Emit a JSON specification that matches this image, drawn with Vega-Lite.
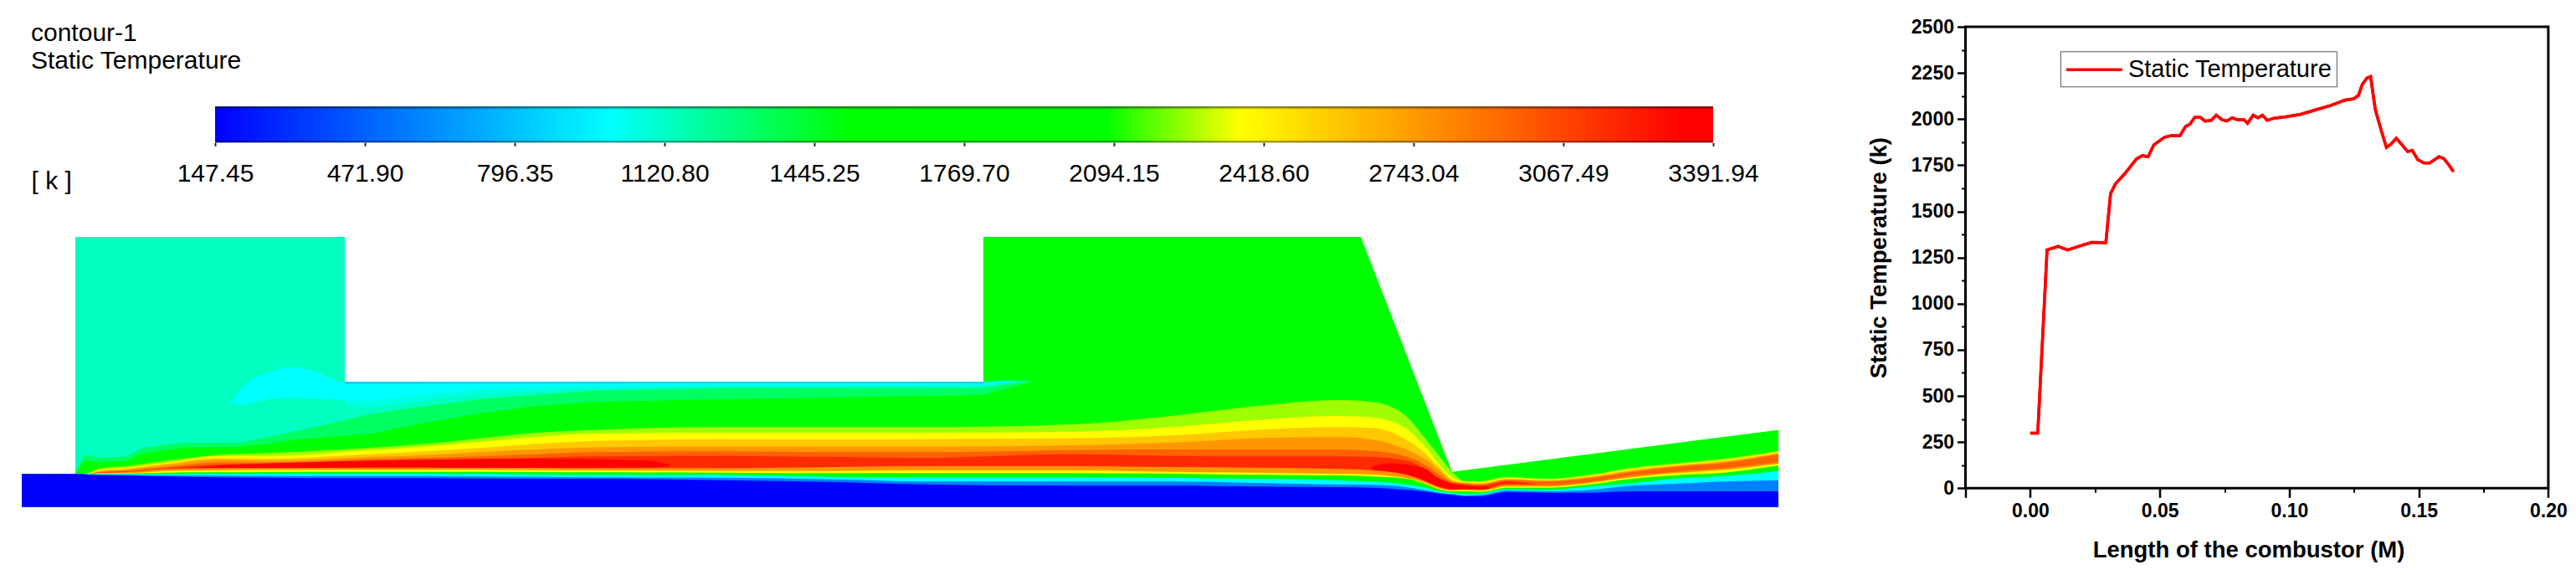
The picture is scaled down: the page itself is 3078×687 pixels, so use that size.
{
"$schema":"https://vega.github.io/schema/vega-lite/v6.json",
"background":"white",
"padding":{"left":26,"top":19,"right":0,"bottom":0},
"spacing":104.5,
"config":{"font":"Liberation Sans","view":{"stroke":null},"axis":{"grid":false}},
"datasets":{
"colorbar":[{"Tmin":147.45,"Tmax":3391.94,"lo":0,"hi":1}],
"outline":[{"s":26,"d":433},{"s":90,"d":433},{"s":90,"d":-417},{"s":412,"d":-417},{"s":412,"d":103},{"s":1175,"d":103},{"s":1175,"d":-417},{"s":1626,"d":-417},{"s":1735,"d":425},{"s":2125,"d":275}],
"upper":[
{"s":90,"top":-417,"lg":432,"mint":432},{"s":100,"top":-417,"lg":385,"mint":365},{"s":120,"top":-417,"lg":390,"mint":375},{"s":150,"top":-417,"lg":388,"mint":370},{"s":170,"top":-417,"lg":360,"mint":340},{"s":220,"top":-417,"lg":338,"mint":320},{"s":287,"top":-417,"lg":335,"mint":320},{"s":320,"top":-417,"lg":325,"mint":300},{"s":353,"top":-417,"lg":310,"mint":280},{"s":412,"top":-417,"lg":296,"mint":240},
{"s":412,"top":103,"lg":296,"mint":240},{"s":440,"top":103,"lg":290,"mint":220},{"s":507,"top":103,"lg":250,"mint":190},{"s":573,"top":103,"lg":215,"mint":165},{"s":640,"top":103,"lg":190,"mint":150},{"s":707,"top":103,"lg":175,"mint":135},{"s":860,"top":103,"lg":165,"mint":125},{"s":1175,"top":103,"lg":150,"mint":125},{"s":1200,"top":97,"lg":128,"mint":112},{"s":1232,"top":101,"lg":103,"mint":101}],
"aqua":[{"s":412,"top":105,"low":190},{"s":440,"top":105,"low":195},{"s":507,"top":105,"low":170},{"s":573,"top":105,"low":148},{"s":707,"top":105,"low":128},{"s":860,"top":105,"low":118},{"s":1175,"top":105,"low":118},{"s":1205,"top":100,"low":104}],
"cyan":[{"s":277,"top":172,"low":178},{"s":287,"top":130,"low":185},{"s":320,"top":70,"low":165},{"s":347,"top":50,"low":160},{"s":373,"top":62,"low":162},{"s":412,"top":105,"low":168},{"s":440,"top":105,"low":170},{"s":507,"top":105,"low":150},{"s":573,"top":105,"low":130},{"s":707,"top":105,"low":120},{"s":1175,"top":105,"low":112},{"s":1195,"top":101,"low":106}],
"wall":[{"s":412,"top":103,"low":110},{"s":1175,"top":103,"low":108}],
"core":[{"segment":"a","s":220,"top":412,"low":414},{"segment":"a","s":280,"top":400,"low":412},{"segment":"a","s":440,"top":386,"low":411},{"segment":"a","s":640,"top":378,"low":411},{"segment":"a","s":773,"top":385,"low":410},{"segment":"a","s":800,"top":400,"low":405},
{"segment":"b","s":1640,"top":405,"low":418},{"segment":"b","s":1660,"top":395,"low":425},{"segment":"b","s":1700,"top":410,"low":455},{"segment":"b","s":1720,"top":450,"low":480},{"segment":"b","s":1750,"top":475,"low":488},{"segment":"b","s":1780,"top":480,"low":485}],
"stations":[
{"s":26,"b1":434,"b2":434,"b3":434,"b4":434,"b5":434,"b6":434,"b7":434,"b8":434,"b9":434,"b10":434,"b11":434,"b12":433},
{"s":90,"b1":434,"b2":434,"b3":434,"b4":434,"b5":434,"b6":434,"b7":434,"b8":434,"b9":434,"b10":434,"b11":434,"b12":433},
{"s":100,"b1":432,"b2":433,"b3":433,"b4":433,"b5":433,"b6":433,"b7":433,"b8":433,"b9":433,"b10":433,"b11":433,"b12":434},
{"s":107,"b1":428,"b2":430,"b3":431,"b4":432,"b5":432,"b6":433,"b7":433,"b8":433,"b9":433,"b10":434,"b11":435,"b12":436},
{"s":120,"b1":412,"b2":416,"b3":420,"b4":424,"b5":426,"b6":428,"b7":429,"b8":430,"b9":431,"b10":433,"b11":435,"b12":437},
{"s":150,"b1":405,"b2":410,"b3":414,"b4":418,"b5":422,"b6":424,"b7":426,"b8":430,"b9":431,"b10":433,"b11":436,"b12":438},
{"s":200,"b1":385,"b2":392,"b3":395,"b4":400,"b5":408,"b6":412,"b7":415,"b8":422,"b9":428,"b10":433,"b11":438,"b12":442},
{"s":260,"b1":365,"b2":368,"b3":376,"b4":382,"b5":392,"b6":400,"b7":412,"b8":420,"b9":427,"b10":432,"b11":439,"b12":445},
{"s":320,"b1":358,"b2":368,"b3":378,"b4":385,"b5":392,"b6":396,"b7":412,"b8":418,"b9":426,"b10":432,"b11":440,"b12":446},
{"s":440,"b1":340,"b2":348,"b3":362,"b4":372,"b5":380,"b6":385,"b7":410,"b8":418,"b9":425,"b10":432,"b11":440,"b12":448},
{"s":507,"b1":325,"b2":335,"b3":352,"b4":365,"b5":375,"b6":382,"b7":410,"b8":418,"b9":425,"b10":432,"b11":440,"b12":448},
{"s":573,"b1":305,"b2":318,"b3":340,"b4":355,"b5":370,"b6":380,"b7":411,"b8":418,"b9":425,"b10":433,"b11":442,"b12":449},
{"s":640,"b1":285,"b2":300,"b3":325,"b4":345,"b5":362,"b6":375,"b7":411,"b8":419,"b9":426,"b10":434,"b11":443,"b12":450},
{"s":707,"b1":275,"b2":288,"b3":315,"b4":338,"b5":355,"b6":370,"b7":412,"b8":420,"b9":427,"b10":435,"b11":445,"b12":450},
{"s":860,"b1":265,"b2":285,"b3":308,"b4":335,"b5":352,"b6":368,"b7":412,"b8":422,"b9":428,"b10":436,"b11":446,"b12":455},
{"s":1000,"b1":265,"b2":285,"b3":310,"b4":335,"b5":355,"b6":372,"b7":408,"b8":422,"b9":430,"b10":443,"b11":452,"b12":462},
{"s":1100,"b1":265,"b2":285,"b3":308,"b4":335,"b5":355,"b6":375,"b7":405,"b8":420,"b9":430,"b10":445,"b11":460,"b12":470},
{"s":1280,"b1":255,"b2":282,"b3":305,"b4":330,"b5":348,"b6":362,"b7":405,"b8":420,"b9":430,"b10":445,"b11":460,"b12":475},
{"s":1400,"b1":225,"b2":265,"b3":295,"b4":320,"b5":345,"b6":368,"b7":408,"b8":425,"b9":432,"b10":447,"b11":460,"b12":475},
{"s":1500,"b1":190,"b2":240,"b3":275,"b4":305,"b5":345,"b6":370,"b7":410,"b8":428,"b9":436,"b10":450,"b11":465,"b12":478},
{"s":1600,"b1":168,"b2":225,"b3":265,"b4":300,"b5":345,"b6":370,"b7":415,"b8":432,"b9":438,"b10":455,"b11":470,"b12":480},
{"s":1640,"b1":175,"b2":230,"b3":268,"b4":310,"b5":350,"b6":372,"b7":420,"b8":435,"b9":442,"b10":460,"b11":472,"b12":482},
{"s":1680,"b1":225,"b2":270,"b3":310,"b4":345,"b5":370,"b6":385,"b7":435,"b8":448,"b9":450,"b10":470,"b11":480,"b12":490},
{"s":1700,"b1":295,"b2":325,"b3":352,"b4":375,"b5":395,"b6":410,"b7":455,"b8":462,"b9":465,"b10":480,"b11":490,"b12":495},
{"s":1720,"b1":370,"b2":400,"b3":410,"b4":420,"b5":435,"b6":450,"b7":480,"b8":485,"b9":488,"b10":495,"b11":500,"b12":503},
{"s":1735,"b1":425,"b2":445,"b3":452,"b4":458,"b5":462,"b6":465,"b7":490,"b8":492,"b9":495,"b10":500,"b11":505,"b12":508},
{"s":1750,"b1":458,"b2":461,"b3":463,"b4":465,"b5":468,"b6":470,"b7":488,"b8":490,"b9":495,"b10":505,"b11":510,"b12":513},
{"s":1770,"b1":458,"b2":461,"b3":465,"b4":468,"b5":472,"b6":475,"b7":490,"b8":492,"b9":497,"b10":503,"b11":508,"b12":512},
{"s":1800,"b1":443,"b2":447,"b3":450,"b4":452,"b5":455,"b6":458,"b7":470,"b8":478,"b9":482,"b10":487,"b11":492,"b12":497},
{"s":1850,"b1":450,"b2":453,"b3":455,"b4":457,"b5":460,"b6":472,"b7":472,"b8":478,"b9":482,"b10":490,"b11":495,"b12":500},
{"s":1900,"b1":435,"b2":438,"b3":441,"b4":445,"b5":448,"b6":460,"b7":460,"b8":465,"b9":470,"b10":478,"b11":490,"b12":500},
{"s":1950,"b1":410,"b2":414,"b3":418,"b4":422,"b5":426,"b6":438,"b7":438,"b8":445,"b9":450,"b10":465,"b11":475,"b12":495},
{"s":2000,"b1":395,"b2":399,"b3":402,"b4":405,"b5":408,"b6":425,"b7":425,"b8":430,"b9":438,"b10":450,"b11":468,"b12":495},
{"s":2060,"b1":378,"b2":382,"b3":385,"b4":390,"b5":393,"b6":412,"b7":412,"b8":418,"b9":428,"b10":440,"b11":460,"b12":495},
{"s":2125,"b1":350,"b2":353,"b3":356,"b4":360,"b5":363,"b6":390,"b7":390,"b8":396,"b9":403,"b10":422,"b11":455,"b12":495}],
"profile":[
{"series":"Static Temperature","x":0,"T":298},{"series":"Static Temperature","x":0.0029,"T":298},{"series":"Static Temperature","x":0.0065,"T":1291},{"series":"Static Temperature","x":0.0108,"T":1310},{"series":"Static Temperature","x":0.0144,"T":1291},{"series":"Static Temperature","x":0.0202,"T":1317},{"series":"Static Temperature","x":0.0238,"T":1332},{"series":"Static Temperature","x":0.0292,"T":1330},{"series":"Static Temperature","x":0.031,"T":1595},{"series":"Static Temperature","x":0.0329,"T":1649},{"series":"Static Temperature","x":0.0365,"T":1704},{"series":"Static Temperature","x":0.041,"T":1784},{"series":"Static Temperature","x":0.0433,"T":1802},{"series":"Static Temperature","x":0.0455,"T":1796},{"series":"Static Temperature","x":0.0477,"T":1860},{"series":"Static Temperature","x":0.0518,"T":1901},{"series":"Static Temperature","x":0.0545,"T":1911},{"series":"Static Temperature","x":0.0578,"T":1909},{"series":"Static Temperature","x":0.0599,"T":1959},{"series":"Static Temperature","x":0.0617,"T":1973},{"series":"Static Temperature","x":0.0635,"T":2009},{"series":"Static Temperature","x":0.0657,"T":2009},{"series":"Static Temperature","x":0.0675,"T":1989},{"series":"Static Temperature","x":0.0699,"T":1993},{"series":"Static Temperature","x":0.0718,"T":2021},{"series":"Static Temperature","x":0.074,"T":1997},{"series":"Static Temperature","x":0.0758,"T":1989},{"series":"Static Temperature","x":0.078,"T":2007},{"series":"Static Temperature","x":0.0798,"T":1997},{"series":"Static Temperature","x":0.0825,"T":1997},{"series":"Static Temperature","x":0.0839,"T":1977},{"series":"Static Temperature","x":0.0861,"T":2021},{"series":"Static Temperature","x":0.0879,"T":2007},{"series":"Static Temperature","x":0.0897,"T":2021},{"series":"Static Temperature","x":0.0915,"T":1993},{"series":"Static Temperature","x":0.0942,"T":2005},{"series":"Static Temperature","x":0.0987,"T":2013},{"series":"Static Temperature","x":0.1042,"T":2025},{"series":"Static Temperature","x":0.1105,"T":2051},{"series":"Static Temperature","x":0.1159,"T":2073},{"series":"Static Temperature","x":0.1213,"T":2102},{"series":"Static Temperature","x":0.1249,"T":2110},{"series":"Static Temperature","x":0.1267,"T":2128},{"series":"Static Temperature","x":0.1282,"T":2188},{"series":"Static Temperature","x":0.13,"T":2222},{"series":"Static Temperature","x":0.1314,"T":2230},{"series":"Static Temperature","x":0.1332,"T":2053},{"series":"Static Temperature","x":0.1352,"T":1953},{"series":"Static Temperature","x":0.1375,"T":1846},{"series":"Static Temperature","x":0.1393,"T":1864},{"series":"Static Temperature","x":0.1413,"T":1896},{"series":"Static Temperature","x":0.1439,"T":1854},{"series":"Static Temperature","x":0.1457,"T":1824},{"series":"Static Temperature","x":0.1475,"T":1830},{"series":"Static Temperature","x":0.1496,"T":1780},{"series":"Static Temperature","x":0.152,"T":1762},{"series":"Static Temperature","x":0.1542,"T":1762},{"series":"Static Temperature","x":0.1578,"T":1796},{"series":"Static Temperature","x":0.1597,"T":1786},{"series":"Static Temperature","x":0.1619,"T":1746},{"series":"Static Temperature","x":0.1634,"T":1714}]
},
"hconcat":[
{"bounds":"flush","spacing":111.67,"vconcat":[
{"width":2099,"height":138.3,
"title":{"text":["contour-1","Static Temperature"],"anchor":"start","frame":"group","orient":"top","offset":0,"dx":11,"dy":79.6,"baseline":"alphabetic","fontSize":30,"lineHeight":33,"fontWeight":"normal","font":"Liberation Sans","color":"black"},
"data":{"name":"colorbar"},
"encoding":{
"x":{"field":"Tmin","type":"quantitative","scale":{"domain":[147.45,3391.94],"range":[231,2021],"nice":false,"zero":false},
"axis":{"values":[147.45,471.90,796.35,1120.80,1445.25,1769.70,2094.15,2418.60,2743.04,3067.49,3391.94],"format":".2f","domain":false,"grid":false,"tickSize":4,"tickWidth":2,"tickColor":"#222","labelFontSize":30,"labelColor":"black","labelPadding":18,"labelFlush":false,"labelOverlap":false,"title":"[ k ]","titleFontSize":30,"titleFontWeight":"normal","titleColor":"black","titleX":11,"titleY":55,"titleAlign":"left","titleBaseline":"alphabetic","titleAnchor":"start"}},
"x2":{"field":"Tmax"},
"y":{"field":"lo","type":"quantitative","scale":{"domain":[0,1],"range":[138.3,95.3]},"axis":null},
"y2":{"field":"hi"}
},
"layer":[
{"mark":{"type":"rect","fill":{"gradient":"linear","x1":0,"y1":0,"x2":1,"y2":0,"stops":[{"offset":0,"color":"#0000ff"},{"offset":0.264,"color":"#00ffff"},{"offset":0.425,"color":"#00ff00"},{"offset":0.594,"color":"#00ff00"},{"offset":0.684,"color":"#ffff00"},{"offset":0.98,"color":"#ff0000"},{"offset":1,"color":"#ff0000"}]}}},
{"mark":{"type":"rect","fill":{"gradient":"linear","x1":0,"y1":0,"x2":0,"y2":1,"stops":[{"offset":0,"color":"rgba(0,0,0,0.65)"},{"offset":0.08,"color":"rgba(0,0,0,0)"},{"offset":0.93,"color":"rgba(0,0,0,0)"},{"offset":1,"color":"rgba(0,0,0,0.6)"}]}}}
]},
{"width":2099,"height":323,
"encoding":{
"x":{"field":"s","type":"quantitative","scale":{"domain":[26,2125],"nice":false,"zero":false},"axis":null},
"color":{"scale":{"domain":[147.45,1004,1526,2075,2366,3327,3391.94],"range":["#0000ff","#00ffff","#00ff00","#00ff00","#ffff00","#ff0000","#ff0000"],"interpolate":"rgb"},"legend":null}
},
"layer":[
{"data":{"name":"outline"},"mark":{"type":"area"},"encoding":{"y":{"field":"d","type":"quantitative","scale":{"domain":[551,-418],"nice":false,"zero":false},"axis":null},"y2":{"datum":551},"color":{"datum":1800,"type":"quantitative"}}},
{"data":{"name":"upper"},"mark":{"type":"area"},"encoding":{"y":{"field":"top","type":"quantitative","axis":null},"y2":{"field":"lg"},"color":{"datum":1330,"type":"quantitative"}}},
{"data":{"name":"upper"},"mark":{"type":"area"},"encoding":{"y":{"field":"top","type":"quantitative","axis":null},"y2":{"field":"mint"},"color":{"datum":1133,"type":"quantitative"}}},
{"data":{"name":"aqua"},"mark":{"type":"area"},"encoding":{"y":{"field":"top","type":"quantitative","axis":null},"y2":{"field":"low"},"color":{"datum":1067,"type":"quantitative"}}},
{"data":{"name":"cyan"},"mark":{"type":"area","interpolate":"monotone"},"encoding":{"y":{"field":"top","type":"quantitative","axis":null},"y2":{"field":"low"},"color":{"datum":1004,"type":"quantitative"}}},
{"data":{"name":"wall"},"mark":{"type":"area"},"encoding":{"y":{"field":"top","type":"quantitative","axis":null},"y2":{"field":"low"},"color":{"datum":846,"type":"quantitative"}}},
{"data":{"name":"stations"},"mark":{"type":"area","interpolate":"monotone"},"encoding":{"y":{"field":"b1","type":"quantitative","axis":null},"y2":{"datum":551},"color":{"datum":2257,"type":"quantitative"}}},
{"data":{"name":"stations"},"mark":{"type":"area","interpolate":"monotone"},"encoding":{"y":{"field":"b2","type":"quantitative","axis":null},"y2":{"datum":551},"color":{"datum":2366,"type":"quantitative"}}},
{"data":{"name":"stations"},"mark":{"type":"area","interpolate":"monotone"},"encoding":{"y":{"field":"b3","type":"quantitative","axis":null},"y2":{"datum":551},"color":{"datum":2574,"type":"quantitative"}}},
{"data":{"name":"stations"},"mark":{"type":"area","interpolate":"monotone"},"encoding":{"y":{"field":"b4","type":"quantitative","axis":null},"y2":{"datum":551},"color":{"datum":2760,"type":"quantitative"}}},
{"data":{"name":"stations"},"mark":{"type":"area","interpolate":"monotone"},"encoding":{"y":{"field":"b5","type":"quantitative","axis":null},"y2":{"datum":551},"color":{"datum":2966,"type":"quantitative"}}},
{"data":{"name":"stations"},"mark":{"type":"area","interpolate":"monotone"},"encoding":{"y":{"field":"b6","type":"quantitative","axis":null},"y2":{"datum":551},"color":{"datum":3168,"type":"quantitative"}}},
{"data":{"name":"core"},"mark":{"type":"area","interpolate":"monotone"},"encoding":{"detail":{"field":"segment"},"y":{"field":"top","type":"quantitative","axis":null},"y2":{"field":"low"},"color":{"datum":3391,"type":"quantitative"}}},
{"data":{"name":"stations"},"mark":{"type":"area","interpolate":"monotone"},"encoding":{"y":{"field":"b7","type":"quantitative","axis":null},"y2":{"datum":551},"color":{"datum":2760,"type":"quantitative"}}},
{"data":{"name":"stations"},"mark":{"type":"area","interpolate":"monotone"},"encoding":{"y":{"field":"b8","type":"quantitative","axis":null},"y2":{"datum":551},"color":{"datum":2366,"type":"quantitative"}}},
{"data":{"name":"stations"},"mark":{"type":"area","interpolate":"monotone"},"encoding":{"y":{"field":"b9","type":"quantitative","axis":null},"y2":{"datum":551},"color":{"datum":1800,"type":"quantitative"}}},
{"data":{"name":"stations"},"mark":{"type":"area","interpolate":"monotone"},"encoding":{"y":{"field":"b10","type":"quantitative","axis":null},"y2":{"datum":551},"color":{"datum":1004,"type":"quantitative"}}},
{"data":{"name":"stations"},"mark":{"type":"area","interpolate":"monotone"},"encoding":{"y":{"field":"b11","type":"quantitative","axis":null},"y2":{"datum":551},"color":{"datum":575,"type":"quantitative"}}},
{"data":{"name":"stations"},"mark":{"type":"area","interpolate":"monotone"},"encoding":{"y":{"field":"b12","type":"quantitative","axis":null},"y2":{"datum":551},"color":{"datum":147.45,"type":"quantitative"}}}
]}
]},
{"width":696.4,"height":551.3,
"view":{"stroke":"black","strokeWidth":3},
"data":{"name":"profile"},
"resolve":{"axis":{"x":"independent","y":"independent"}},
"layer":[
{"mark":{"type":"line","strokeWidth":3.5,"color":"#ff0000"},
"encoding":{
"x":{"field":"x","type":"quantitative","scale":{"domain":[-0.025,0.2],"nice":false,"zero":false},"axis":{"orient":"bottom","values":[0.025,0.075,0.125,0.175],"labels":false,"title":null,"domain":false,"grid":false,"tickSize":5,"tickWidth":2,"tickColor":"black"}},
"y":{"field":"T","type":"quantitative","scale":{"domain":[0,2500],"nice":false,"zero":false},"axis":{"orient":"left","values":[125,375,625,875,1125,1375,1625,1875,2125,2375],"labels":false,"title":null,"domain":false,"grid":false,"tickSize":5,"tickWidth":2,"tickColor":"black"}}}},
{"mark":{"type":"line","strokeWidth":3.5},
"encoding":{
"x":{"field":"x","type":"quantitative","axis":{"orient":"bottom","values":[-0.025,0,0.05,0.1,0.15,0.2],"labelExpr":"datum.value < 0 ? '' : format(datum.value, '.2f')","domain":false,"grid":false,"tickSize":11,"tickWidth":2.5,"tickColor":"black","labelFontSize":23,"labelFontWeight":"bold","labelColor":"black","labelPadding":5,"labelFlush":false,"title":"Length of the combustor (M)","titleFontSize":27.5,"titleFontWeight":"bold","titleColor":"black","titlePadding":21,"titleX":338}},
"y":{"field":"T","type":"quantitative","axis":{"orient":"left","values":[0,250,500,750,1000,1250,1500,1750,2000,2250,2500],"format":"d","domain":false,"grid":false,"tickSize":10,"tickWidth":2.5,"tickColor":"black","labelFontSize":23,"labelFontWeight":"bold","labelColor":"black","labelPadding":4,"labelFlush":false,"title":"Static Temperature (k)","titleFontSize":27.5,"titleFontWeight":"bold","titleColor":"black","titlePadding":24}},
"color":{"field":"series","type":"nominal","scale":{"range":["#ff0000"]},"legend":{"title":null,"orient":"none","legendX":113.4,"legendY":29.3,"symbolType":"M-1,0H3.47","symbolSize":900,"symbolStrokeWidth":3.5,"labelFontSize":29,"labelColor":"black","labelOffset":42,"labelLimit":400,"padding":5,"strokeColor":"#555"}}}}
]}
]
}
